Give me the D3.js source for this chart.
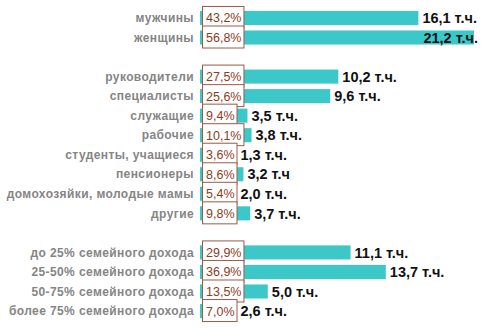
<!DOCTYPE html>
<html>
<head>
<meta charset="utf-8">
<script src="https://cdn.jsdelivr.net/npm/d3@7"></script>
<style>
  html, body { margin: 0; padding: 0; background: #fff; }
  svg { display: block; }
</style>
</head>
<body>
<svg id="chart" width="486" height="328"></svg>
<script>
// Audience profile: share of audience and audience size (thousand people)
const groupSizes = [2, 8, 4];
const categories = [
  "мужчины", "женщины",
  "руководители", "специалисты", "служащие", "рабочие",
  "студенты, учащиеся", "пенсионеры", "домохозяйки, молодые мамы", "другие",
  "до 25% семейного дохода", "25-50% семейного дохода",
  "50-75% семейного дохода", "более 75% семейного дохода"
];
const shares = [43.2, 56.8, 27.5, 25.6, 9.4, 10.1, 3.6, 8.6, 5.4, 9.8, 29.9, 36.9, 13.5, 7.0];
const counts = [16.1, 21.2, 10.2, 9.6, 3.5, 3.8, 1.3, 3.2, 2.0, 3.7, 11.1, 13.7, 5.0, 2.6];
const units = ["т.ч.", "т.ч.", "т.ч.", "т.ч.", "т.ч.", "т.ч.", "т.ч.", "т.ч", "т.ч.", "т.ч.", "т.ч.", "т.ч.", "т.ч.", "т.ч."];

const W = 486, H = 328;
const svg = d3.select("#chart");

// Row slots: one empty slot between groups
const rows = [];
let slot = 0, idx = 0;
groupSizes.forEach((n, g) => {
  for (let k = 0; k < n; k++) {
    rows.push({ slot: slot++, i: idx,
      cat: categories[idx], share: shares[idx], count: counts[idx], unit: units[idx] });
    idx++;
  }
  if (g < groupSizes.length - 1) slot++;
});

const y = d3.scaleBand()
  .domain(d3.range(slot))
  .range([8.2, 320.8])
  .paddingInner(0.28)
  .paddingOuter(0.14);

const x = d3.scaleLinear()
  .domain([0, 20.2])
  .range([200, 474])
  .clamp(true);

const loc = d3.formatLocale({ decimal: ",", thousands: " ", grouping: [3], currency: ["", ""] });
const f1 = loc.format(".1f");

const cy = d => y(d.slot) + y.bandwidth() / 2;

// Bars
svg.append("g").selectAll("rect")
  .data(rows).join("rect")
  .attr("x", x(0))
  .attr("y", d => y(d.slot))
  .attr("width", d => x(d.count) - x(0))
  .attr("height", y.bandwidth())
  .attr("fill", "#3cc8c8");

// Category labels
svg.append("g").selectAll("text")
  .data(rows).join("text")
  .attr("x", 194)
  .attr("y", cy)
  .attr("dy", "0.35em")
  .attr("text-anchor", "end")
  .attr("font-family", "'Liberation Sans', Arial, sans-serif")
  .attr("font-weight", "bold")
  .attr("font-size", 12)
  .attr("letter-spacing", "0.4px")
  .attr("fill", "#858585")
  .text(d => d.cat);

// Share boxes
const boxLeft = 202;
const boxG = svg.append("g");
const boxRight = {};
rows.forEach(d => {
  const g = boxG.append("g");
  const rect = g.append("rect");
  const t = g.append("text")
    .attr("x", boxLeft + 4)
    .attr("y", cy(d))
    .attr("dy", "0.36em")
    .attr("font-family", "'Liberation Sans', Arial, sans-serif")
    .attr("font-size", 12.5)
    .attr("fill", "#8e3b22")
    .text(f1(d.share) + "%");
  const w = t.node().getComputedTextLength() + 6;
  rect.attr("x", boxLeft + 0.5)
    .attr("y", cy(d) - 11.5)
    .attr("width", w)
    .attr("height", 22)
    .attr("fill", "#fff")
    .attr("stroke", "#9c5a48")
    .attr("stroke-width", 1);
  boxRight[d.i] = boxLeft + w;
  t.raise();
});

// Value labels
svg.append("g").selectAll("text")
  .data(rows).join("text")
  .attr("y", cy)
  .attr("dy", "0.36em")
  .attr("font-family", "'Liberation Sans', Arial, sans-serif")
  .attr("font-weight", "bold")
  .attr("font-size", 14.5)
  .attr("fill", "#111")
  .text(d => f1(d.count) + " " + d.unit)
  .each(function (d) {
    const tw = this.getComputedTextLength();
    const start = Math.max(x(d.count), boxRight[d.i]) + 4;
    d3.select(this).attr("x", Math.min(start, W - 8 - tw));
  });
</script>
</body>
</html>
